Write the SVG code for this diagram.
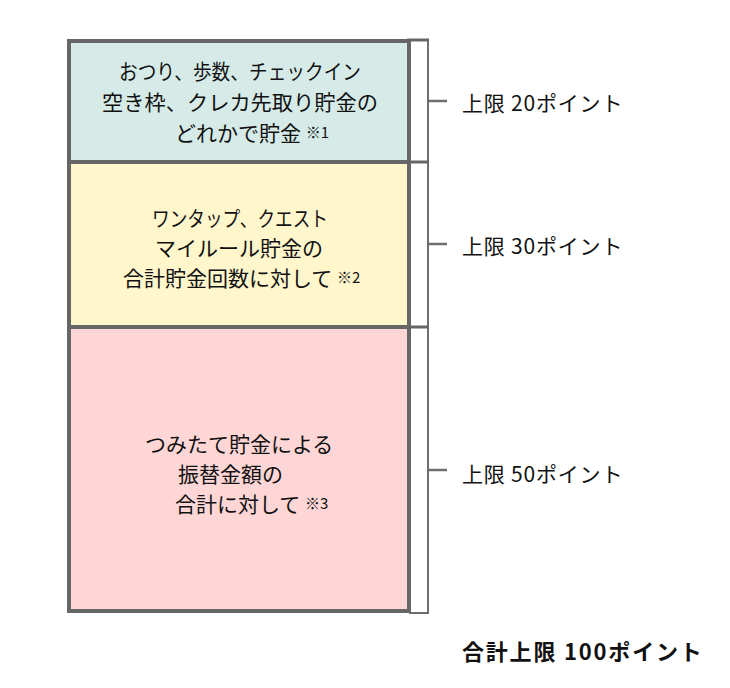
<svg xmlns="http://www.w3.org/2000/svg" width="730" height="688" viewBox="0 0 730 688">
<style>
text{font-family:"Noto Sans CJK JP","Noto Sans",sans-serif;fill:#111;}
.t{font-size:21px;}
.n{font-size:15px;}
.lbl{font-size:21px;letter-spacing:0.8px;}
.tot{font-size:22px;font-weight:bold;letter-spacing:1.8px;}
.box{stroke:#666;stroke-width:4;}
.br{fill:#fff;stroke:#6e6e6e;stroke-width:2;}
.tick{stroke:#6e6e6e;stroke-width:2.5;fill:none;}
</style>
<rect width="730" height="688" fill="#fff"/>
<g id="connectors">
<rect class="br" x="410" y="40" width="18" height="122"/>
<rect class="br" x="410" y="162" width="18" height="165"/>
<rect class="br" x="410" y="327" width="18" height="286"/>
<line class="tick" x1="428" y1="101" x2="447" y2="101"/>
<line class="tick" x1="428" y1="244" x2="447" y2="244"/>
<line class="tick" x1="428" y1="470" x2="447" y2="470"/>
<line x1="407" y1="40" x2="429" y2="40" stroke="#666" stroke-width="3"/>
<line x1="407" y1="162" x2="429" y2="162" stroke="#666" stroke-width="3"/>
<line x1="407" y1="327" x2="429" y2="327" stroke="#666" stroke-width="3"/>
</g>
<g id="box1">
<rect class="box" x="69" y="41" width="340" height="121" fill="#d6ebe8"/>
<text class="t" x="119" y="79" textLength="242" lengthAdjust="spacingAndGlyphs">おつり、歩数、チェックイン</text>
<text class="t" x="102" y="110" textLength="276" lengthAdjust="spacingAndGlyphs">空き枠、クレカ先取り貯金の</text>
<text class="t" x="175" y="141">どれかで貯金 <tspan class="n" dy="-3">※1</tspan></text>
</g>
<g id="box2">
<rect class="box" x="69" y="162" width="340" height="165" fill="#fff6cc"/>
<text class="t" x="152" y="226" textLength="176" lengthAdjust="spacingAndGlyphs">ワンタップ、クエスト</text>
<text class="t" x="155" y="256">マイルール貯金の</text>
<text class="t" x="123" y="286">合計貯金回数に対して <tspan class="n" dy="-3">※2</tspan></text>
</g>
<g id="box3">
<rect class="box" x="69" y="327" width="340" height="284" fill="#ffd6d6"/>
<text class="t" x="145" y="452">つみたて貯金による</text>
<text class="t" x="178" y="482">振替金額の</text>
<text class="t" x="175" y="512">合計に対して <tspan class="n" dy="-3">※3</tspan></text>
</g>
<g id="label20"><text class="lbl" x="462" y="111">上限 20ポイント</text></g>
<g id="label30"><text class="lbl" x="462" y="254">上限 30ポイント</text></g>
<g id="label50"><text class="lbl" x="462" y="482">上限 50ポイント</text></g>
<g id="total"><text class="tot" x="462" y="660">合計上限 100ポイント</text></g>
</svg>
